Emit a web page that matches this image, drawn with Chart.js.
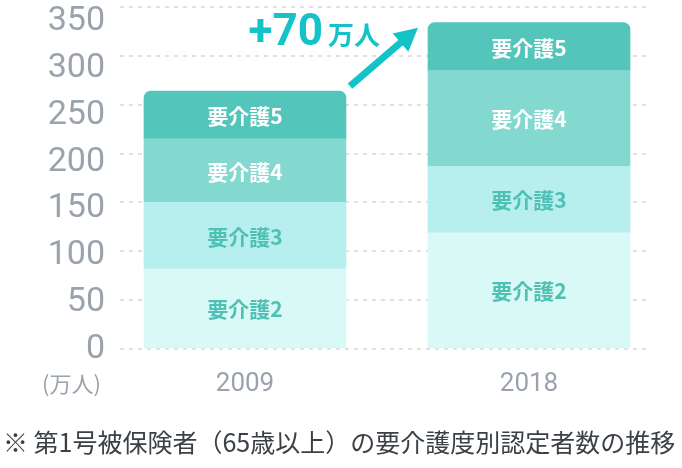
<!DOCTYPE html>
<html><head><meta charset="utf-8">
<script src="https://cdn.jsdelivr.net/npm/chart.js@4/dist/chart.umd.min.js"></script>
<style>
html,body{margin:0;padding:0;background:#fff;}
#wrap{position:relative;width:682px;height:468px;overflow:hidden;}
canvas{position:absolute;left:0;top:0;}
.unit{position:absolute;left:42px;top:368px;font:22px "Noto Sans CJK JP";line-height:28px;color:#9aa3ad;white-space:nowrap;}
.cap{position:absolute;left:3px;top:425px;font:25px "Noto Sans CJK JP";line-height:32px;color:#3b4045;white-space:nowrap;}
</style></head><body>
<div id="wrap"><canvas id="c" width="682" height="468"></canvas>
<div class="unit">(万人)</div>
<div class="cap">※ 第1号被保険者（65歳以上）の要介護度別認定者数の推移</div></div>
<script>
const years = ['2009', '2018'];
const levels = ['要介護2', '要介護3', '要介護4', '要介護5'];
const care2 = [82, 119];
const care3 = [68, 68];
const care4 = [65, 98];
const care5 = [49, 49];
const yTicks = [0, 50, 100, 150, 200, 250, 300, 350];
const unit = '万人';

const series = [care2, care3, care4, care5];
const fills = ['#d9f9f6', '#b6efee', '#83d9cf', '#53c5bb'];
const labelColors = ['#4fc0b4', '#4fc0b4', '#ffffff', '#ffffff'];
const accent = '#14c3c8';
const BAR = 202;

function noPad(s) { s.paddingTop = 0; s.paddingBottom = 0; s.paddingLeft = 0; s.paddingRight = 0; }

const labelPlugin = {
  id: 'labels',
  afterDatasetsDraw(chart) {
    const ctx = chart.ctx;
    ctx.save();
    ctx.textAlign = 'center';
    ctx.textBaseline = 'middle';
    ctx.font = 'bold 21px "Noto Sans CJK JP"';
    chart.data.datasets.forEach((ds, di) => {
      const meta = chart.getDatasetMeta(di);
      meta.data.forEach(el => {
        ctx.fillStyle = labelColors[di];
        ctx.fillText(ds.label, el.x, (el.y + el.base) / 2 + 1);
      });
    });
    const xs = chart.scales.x, ys = chart.scales.y;
    const tot = years.map((_, i) => series.reduce((s, a) => s + a[i], 0));
    const x0 = xs.getPixelForValue(0) + BAR / 2 + 4, y0 = ys.getPixelForValue(tot[0]) - 5;
    const x1 = xs.getPixelForValue(1) - BAR / 2 - 10, y1 = ys.getPixelForValue(tot[1]) + 5;
    const ang = Math.atan2(y1 - y0, x1 - x0);
    const hl = 23, hw = 12;
    const bx = x1 - hl * Math.cos(ang), by = y1 - hl * Math.sin(ang);
    ctx.strokeStyle = accent; ctx.fillStyle = accent;
    ctx.lineWidth = 7; ctx.lineCap = 'butt';
    ctx.beginPath(); ctx.moveTo(x0, y0); ctx.lineTo(bx + 2 * Math.cos(ang), by + 2 * Math.sin(ang)); ctx.stroke();
    ctx.beginPath();
    ctx.moveTo(x1, y1);
    ctx.lineTo(bx + hw * Math.sin(ang), by - hw * Math.cos(ang));
    ctx.lineTo(bx - hw * Math.sin(ang), by + hw * Math.cos(ang));
    ctx.closePath(); ctx.fill();

    const xr = x0 + 30, base = y1 + 17;
    ctx.textBaseline = 'alphabetic';
    ctx.textAlign = 'right';
    ctx.font = 'bold 26px "Noto Sans CJK JP"';
    ctx.fillText(unit, xr, base);
    const wu = ctx.measureText(unit).width;
    ctx.font = 'bold 44px Roboto';
    ctx.fillText('+' + (tot[1] - tot[0]), xr - wu - 5, base);
    ctx.restore();
  }
};

new Chart(document.getElementById('c'), {
  type: 'bar',
  data: {
    datasets: levels.map((lv, i) => ({
      label: lv,
      data: series[i].map((v, j) => ({ x: j, y: v })),
      backgroundColor: fills[i],
      borderWidth: 0,
      barThickness: BAR,
      borderRadius: i === levels.length - 1 ? { topLeft: 7, topRight: 7, bottomLeft: 0, bottomRight: 0 } : 0,
      borderSkipped: false
    }))
  },
  options: {
    responsive: false,
    animation: false,
    layout: { autoPadding: false, padding: { top: 7, right: 33, bottom: 0, left: 0 } },
    plugins: { legend: { display: false }, tooltip: { enabled: false } },
    scales: {
      x: {
        type: 'linear', min: -0.4401, max: 1.4225, stacked: true, offset: false,
        grid: { display: false, drawTicks: false }, border: { display: false },
        afterBuildTicks: s => { s.ticks = years.map((_, i) => ({ value: i })); },
        afterFit: s => { s.height = 119; noPad(s); },
        ticks: { callback: v => years[v], color: '#9aa3ad', font: { family: 'Roboto', size: 26 }, padding: 20, autoSkip: false, maxRotation: 0 }
      },
      y: {
        position: 'left', min: 0, max: 350, stacked: true,
        grid: { color: '#dfe1e2', lineWidth: 2, drawTicks: false, tickLength: 0 },
        border: { display: false, dash: [4, 5] },
        afterBuildTicks: s => { s.ticks = yTicks.map(v => ({ value: v })); },
        ticks: { display: false },
        afterFit: s => { s.width = 0; noPad(s); }
      },
      y2: {
        position: 'left', min: 0.6, max: 365.5,
        grid: { display: false, drawTicks: false }, border: { display: false },
        afterBuildTicks: s => { s.ticks = yTicks.map(v => ({ value: v })); },
        ticks: { color: '#9aa3ad', font: { family: 'Roboto', size: 34 }, padding: 15 },
        afterFit: s => { s.width = 120; noPad(s); }
      }
    }
  },
  plugins: [labelPlugin]
});
</script>
</body></html>
